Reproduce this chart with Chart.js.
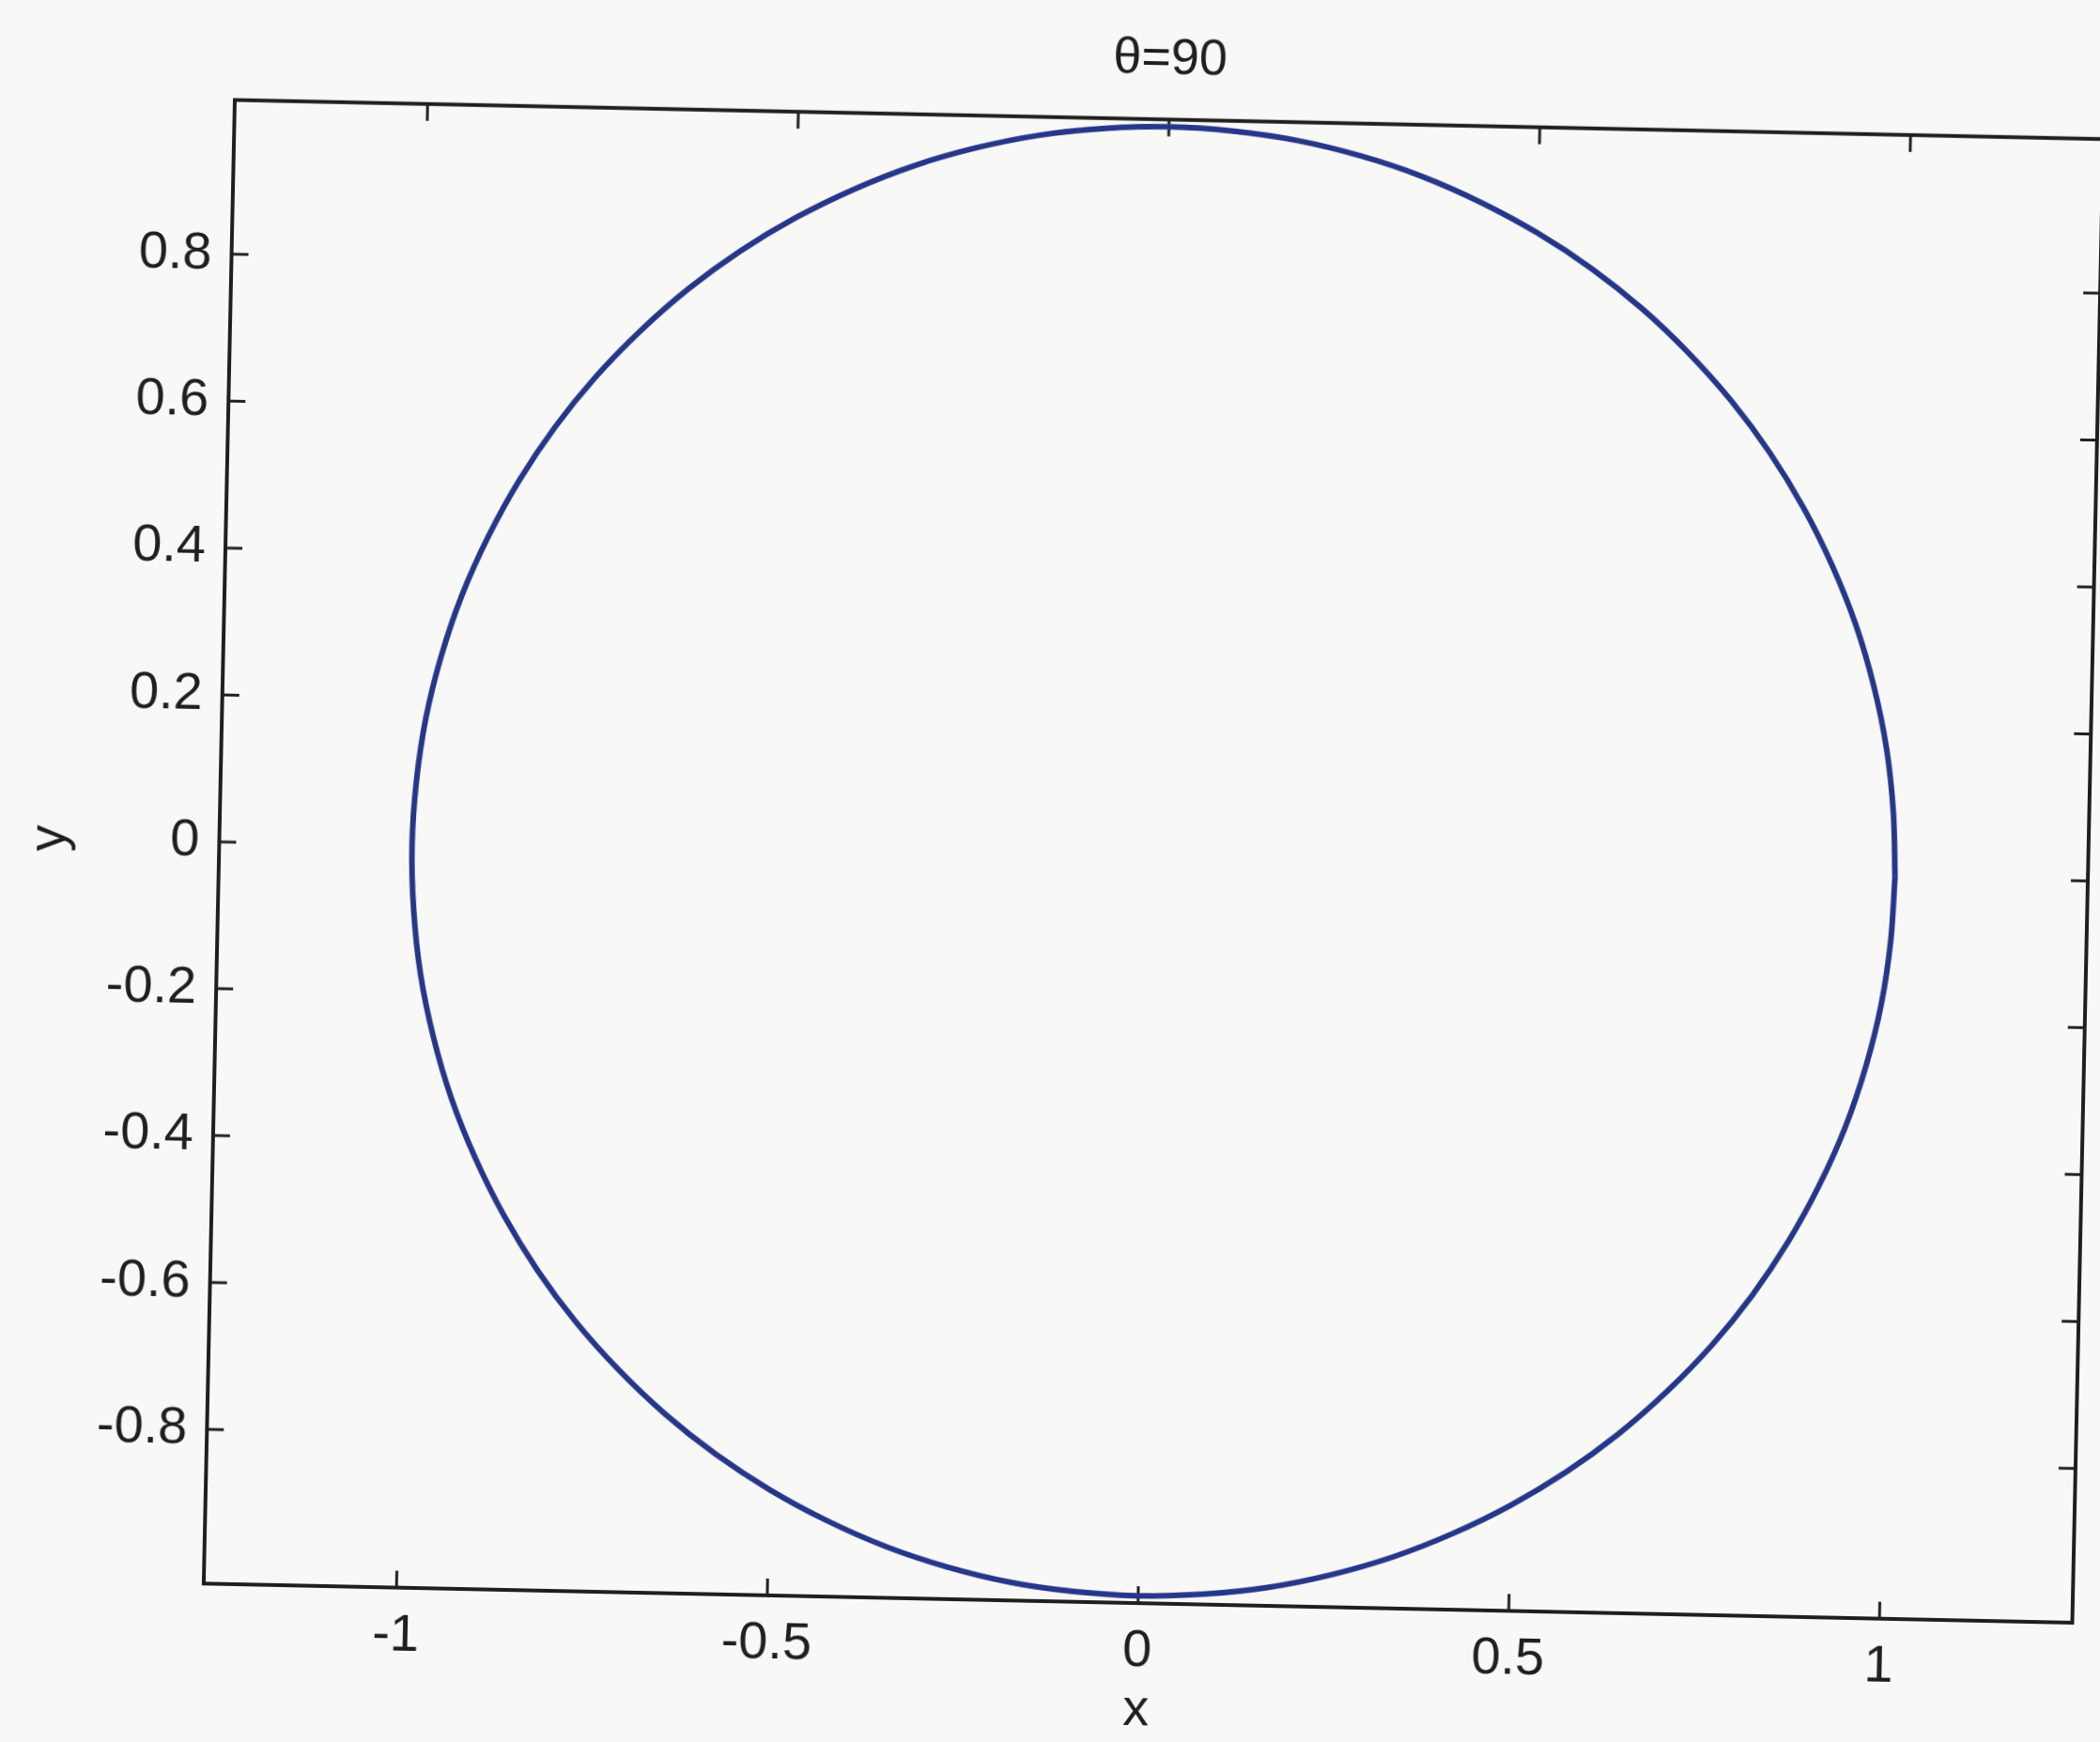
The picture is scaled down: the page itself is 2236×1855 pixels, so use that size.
<!DOCTYPE html>
<html>
<head>
<meta charset="utf-8">
<title>θ=90</title>
<script src="https://cdn.jsdelivr.net/npm/chart.js@4.4.1/dist/chart.umd.min.js"></script>
<style>
  html, body { margin: 0; padding: 0; background: #f8f8f7; overflow: hidden; }
  /* leve inclinação da digitalização original */
  #wrap { width: 2236px; height: 1855px; transform: rotate(1.2deg); transform-origin: 50% 50%; }
</style>
</head>
<body>
<div id="wrap"><canvas id="chart"></canvas></div>
<script>
// Dados (pontos do círculo, a cada 5 graus)
const circleX = [
  1, 0.996, 0.985, 0.966, 0.94, 0.906, 0.866, 0.819, 0.766, 0.707, 0.643, 0.574, 0.5, 0.423, 0.342, 0.259, 0.174, 0.087, 0,
  -0.087, -0.174, -0.259, -0.342, -0.423, -0.5, -0.574, -0.643, -0.707, -0.766, -0.819, -0.866, -0.906, -0.94, -0.966, -0.985, -0.996, -1,
  -0.996, -0.985, -0.966, -0.94, -0.906, -0.866, -0.819, -0.766, -0.707, -0.643, -0.574, -0.5, -0.423, -0.342, -0.259, -0.174, -0.087, 0,
  0.087, 0.174, 0.259, 0.342, 0.423, 0.5, 0.574, 0.643, 0.707, 0.766, 0.819, 0.866, 0.906, 0.94, 0.966, 0.985, 0.996, 1
];
const circleY = [
  0, 0.087, 0.174, 0.259, 0.342, 0.423, 0.5, 0.574, 0.643, 0.707, 0.766, 0.819, 0.866, 0.906, 0.94, 0.966, 0.985, 0.996, 1,
  0.996, 0.985, 0.966, 0.94, 0.906, 0.866, 0.819, 0.766, 0.707, 0.643, 0.574, 0.5, 0.423, 0.342, 0.259, 0.174, 0.087, 0,
  -0.087, -0.174, -0.259, -0.342, -0.423, -0.5, -0.574, -0.643, -0.707, -0.766, -0.819, -0.866, -0.906, -0.94, -0.966, -0.985, -0.996, -1,
  -0.996, -0.985, -0.966, -0.94, -0.906, -0.866, -0.819, -0.766, -0.707, -0.643, -0.574, -0.5, -0.423, -0.342, -0.259, -0.174, -0.087, 0
];

const xTicks = [-1, -0.5, 0, 0.5, 1];
const xTickLabels = ['-1', '-0.5', '0', '0.5', '1'];
const yTicks = [-0.8, -0.6, -0.4, -0.2, 0, 0.2, 0.4, 0.6, 0.8];
const yTickLabels = ['-0.8', '-0.6', '-0.4', '-0.2', '0', '0.2', '0.4', '0.6', '0.8'];
const xLimits = [-1.26, 1.26];
const yLimits = [-1.01, 1.01];

const FONT = "'Liberation Sans', Arial, sans-serif";
const INK = '#1f1f1f';
const BG = '#f8f8f7';

// Fundo do canvas
const bgPlugin = {
  id: 'bg',
  beforeDraw(chart) {
    const ctx = chart.ctx;
    ctx.save();
    ctx.fillStyle = BG;
    ctx.fillRect(0, 0, chart.width, chart.height);
    ctx.restore();
  }
};

// Moldura + ticks para dentro (estilo MATLAB)
const boxPlugin = {
  id: 'box',
  beforeDatasetsDraw(chart) {
    const { ctx, chartArea: a, scales: { x, y } } = chart;
    const len = 18;
    ctx.save();
    ctx.strokeStyle = INK;
    ctx.lineWidth = 4;
    ctx.strokeRect(a.left, a.top, a.right - a.left, a.bottom - a.top);
    ctx.lineWidth = 3;
    ctx.beginPath();
    xTicks.forEach(v => {
      const px = x.getPixelForValue(v);
      ctx.moveTo(px, a.bottom); ctx.lineTo(px, a.bottom - len);
      ctx.moveTo(px, a.top); ctx.lineTo(px, a.top + len);
    });
    yTicks.forEach(v => {
      const py = y.getPixelForValue(v);
      ctx.moveTo(a.left, py); ctx.lineTo(a.left + len, py);
      ctx.moveTo(a.right, py); ctx.lineTo(a.right - len, py);
    });
    ctx.stroke();
    ctx.restore();
  }
};

const tickFont = { family: FONT, size: 56 };

new Chart(document.getElementById('chart'), {
  type: 'scatter',
  data: {
    datasets: [{
      data: circleX.map((cx, i) => ({ x: cx, y: circleY[i] })),
      showLine: true,
      borderColor: '#26378a',
      borderWidth: 6,
      borderJoinStyle: 'round',
      pointRadius: 0,
      tension: 0.33,
      clip: false
    }]
  },
  options: {
    responsive: true,
    maintainAspectRatio: false,
    animation: false,
    layout: { padding: { left: 0, right: 13, top: 0, bottom: 0 } },
    plugins: {
      legend: { display: false },
      tooltip: { enabled: false },
      title: {
        display: true,
        text: 'θ=90',
        fullSize: false,
        color: INK,
        font: { family: FONT, size: 54, weight: 'normal' },
        padding: { top: 29, bottom: 31 }
      }
    },
    scales: {
      x: {
        type: 'linear',
        min: xLimits[0],
        max: xLimits[1],
        afterBuildTicks: s => { s.ticks = xTicks.map(v => ({ value: v })); },
        afterFit: s => { s.height = 150; },
        ticks: {
          callback: v => xTickLabels[xTicks.indexOf(v)],
          color: INK, font: tickFont, padding: 18,
          maxRotation: 0, autoSkip: false
        },
        grid: { display: false, drawTicks: false },
        border: { display: false },
        title: {
          display: true, text: 'x', color: INK,
          font: { family: FONT, size: 56, lineHeight: 1 },
          padding: { top: 0, bottom: 7 }
        }
      },
      y: {
        type: 'linear',
        min: yLimits[0],
        max: yLimits[1],
        afterBuildTicks: s => { s.ticks = yTicks.map(v => ({ value: v })); },
        afterFit: s => { s.width = 233; },
        ticks: {
          callback: v => yTickLabels[yTicks.indexOf(v)],
          color: INK, font: tickFont, padding: 21, autoSkip: false
        },
        grid: { display: false, drawTicks: false },
        border: { display: false },
        title: {
          display: true, text: 'y', color: INK,
          font: { family: FONT, size: 56, lineHeight: 1 },
          padding: { top: 25, bottom: 0 }
        }
      }
    }
  },
  plugins: [bgPlugin, boxPlugin]
});
</script>
</body>
</html>
